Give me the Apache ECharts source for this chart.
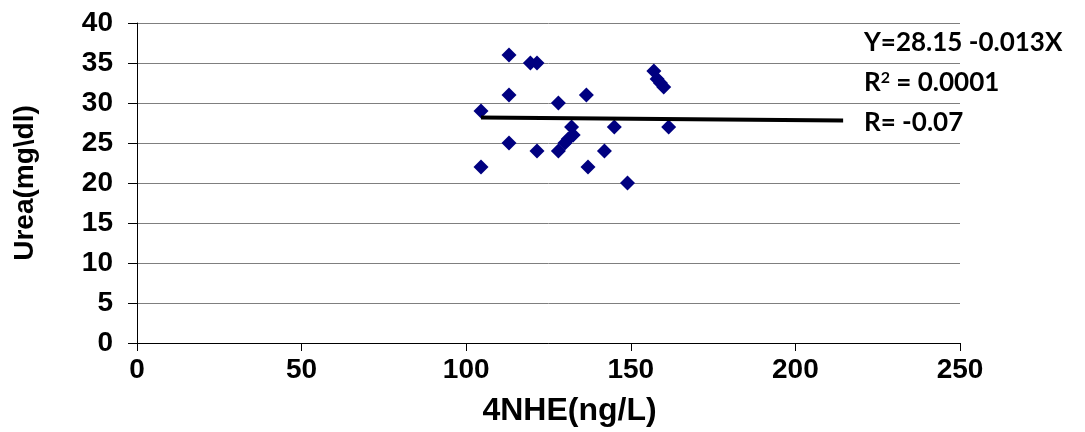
<!DOCTYPE html>
<html><head><meta charset="utf-8">
<script src="https://cdn.jsdelivr.net/npm/echarts@6/dist/echarts.min.js"></script>
<style>html,body{margin:0;padding:0;background:#fff}#c{width:1085px;height:432px}</style>
</head><body><div id="c"></div>
<script>
const xValues = [113, 119.5, 121.5, 113, 104.5, 128, 136.5, 157, 158, 159, 160, 161.5, 145, 132, 132.5, 131, 130, 128, 113, 121.5, 142, 104.5, 137, 149];
const yValues = [36, 35, 35, 31, 29, 30, 31, 34, 33, 32.5, 32, 27, 27, 27, 26, 25.5, 25, 24, 25, 24, 24, 22, 22, 20];
const trendX = [104.5, 214.5];
const trendY = [28.2, 27.8];
const xTicks = [0, 50, 100, 150, 200, 250];
const yTicks = [0, 5, 10, 15, 20, 25, 30, 35, 40];
const eqLines = ['Y=28.15 -0.013X', 'R', '2', ' = 0.0001', 'R= -0.07'];

const chart = echarts.init(document.getElementById('c'));
const lab = {fontFamily: 'Liberation Sans', fontWeight: 'bold', fontSize: 28, color: '#000'};
const eq = {fontFamily: 'Lato', fontWeight: 'bold', fontSize: 26, fill: '#000'};
chart.setOption({
  animation: false,
  grid: {left: 137, right: 125, top: 23, bottom: 88},
  xAxis: {
    type: 'value', min: xTicks[0], max: xTicks[xTicks.length-1], interval: 50,
    name: '4NHE(ng/L)', nameLocation: 'middle', nameGap: 52,
    nameTextStyle: Object.assign({}, lab, {fontSize: 32, padding: [0, 0, 0, 42]}),
    axisLine: {show: true, lineStyle: {color: '#000', width: 1}},
    axisTick: {show: true, length: 8, lineStyle: {color: '#000'}},
    axisLabel: Object.assign({margin: 13}, lab),
    splitLine: {show: false}
  },
  yAxis: {
    type: 'value', min: yTicks[0], max: yTicks[yTicks.length-1], interval: 5,
    name: 'Urea(mg\\dl)', nameLocation: 'middle', nameGap: 98, nameRotate: 90,
    nameTextStyle: Object.assign({}, lab),
    axisLine: {show: true, lineStyle: {color: '#000', width: 1}},
    axisTick: {show: true, length: 9, lineStyle: {color: '#000'}},
    axisLabel: Object.assign({margin: 24}, lab),
    splitLine: {show: true, lineStyle: {color: '#7f7f7f', width: 1}}
  },
  series: [
    {
      type: 'scatter', symbol: 'diamond', symbolSize: 15,
      itemStyle: {color: '#000080', opacity: 1},
      data: xValues.map((x, i) => [x, yValues[i]]), z: 3
    },
    {
      type: 'line', symbol: 'none', lineStyle: {color: '#000', width: 4},
      data: trendX.map((x, i) => [x, trendY[i]]), z: 4
    }
  ],
  graphic: [
    {type: 'text', left: 864, top: 30, style: Object.assign({text: eqLines[0]}, eq)},
    {type: 'text', left: 864, top: 70, style: {
      text: '{a|' + eqLines[1] + '}{s|' + eqLines[2] + '}{a|' + eqLines[3] + '}',
      rich: {
        a: {fontFamily: 'Lato', fontWeight: 'bold', fontSize: 26, color: '#000'},
        s: {fontFamily: 'Lato', fontWeight: 'bold', fontSize: 16, color: '#000', verticalAlign: 'top', padding: [0,0,10,0]}
      }
    }},
    {type: 'text', left: 864, top: 110, style: Object.assign({text: eqLines[4]}, eq)}
  ]
});
</script></body></html>
